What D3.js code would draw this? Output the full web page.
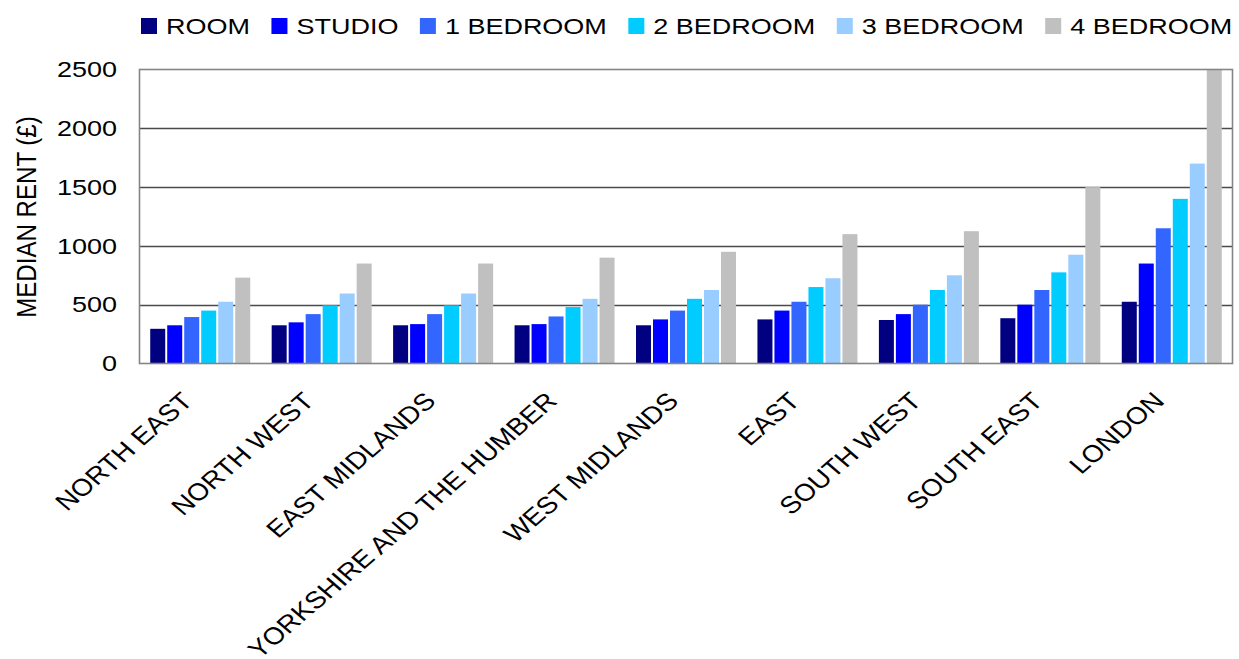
<!DOCTYPE html>
<html>
<head>
<meta charset="utf-8">
<script src="https://cdn.jsdelivr.net/npm/d3@7"></script>
<style>
  html, body { margin: 0; padding: 0; background: #fff; }
  svg { display: block; font-family: "Liberation Sans", Arial, sans-serif; }
</style>
</head>
<body>
<svg id="chart" width="1239" height="659"></svg>
<script>
// Median monthly rent by English region and property size
const regions = ["NORTH EAST", "NORTH WEST", "EAST MIDLANDS", "YORKSHIRE AND THE HUMBER",
  "WEST MIDLANDS", "EAST", "SOUTH WEST", "SOUTH EAST", "LONDON"];
const series = ["ROOM", "STUDIO", "1 BEDROOM", "2 BEDROOM", "3 BEDROOM", "4 BEDROOM"];
const room      = [295, 325, 325, 325, 325, 375, 370, 385, 525];
const studio    = [325, 350, 335, 335, 375, 450, 420, 500, 850];
const bed1      = [395, 420, 420, 400, 450, 525, 500, 625, 1150];
const bed2      = [450, 495, 495, 480, 550, 650, 625, 775, 1400];
const bed3      = [525, 595, 595, 550, 625, 725, 750, 925, 1700];
const bed4      = [730, 850, 850, 900, 950, 1100, 1125, 1500, 2500];
const yTicks    = [0, 500, 1000, 1500, 2000, 2500];
const colors    = ["#000080", "#0000FF", "#3366FF", "#00CCFF", "#99CCFF", "#C0C0C0"];

const values = [room, studio, bed1, bed2, bed3, bed4];
const rows = regions.map((r, i) => ({ region: r, vals: series.map((s, j) => ({ key: s, value: values[j][i] })) }));

const svg = d3.select("#chart");
const plot = { left: 139.5, right: 1232.5, top: 69.5, bottom: 363.5 };
const fontSize = 27, squash = 0.83;

const x0 = d3.scaleBand().domain(regions).range([plot.left, plot.right]).padding(0);
const x1 = d3.scaleBand().domain(series).range([0, 100]).paddingInner(2 / 17).paddingOuter(0);
const y = d3.scaleLinear().domain([0, 2500]).range([plot.bottom, plot.top]);

// plot background and horizontal gridlines
svg.append("rect")
  .attr("x", plot.left).attr("y", plot.top)
  .attr("width", plot.right - plot.left).attr("height", plot.bottom - plot.top)
  .attr("fill", "#fff");

svg.append("g").selectAll("line")
  .data(yTicks.filter(t => t > 0 && t < 2500))
  .join("line")
  .attr("x1", plot.left).attr("x2", plot.right)
  .attr("y1", d => Math.round(y(d)) + 0.5).attr("y2", d => Math.round(y(d)) + 0.5)
  .attr("stroke", "#4a4a4a").attr("stroke-width", 1.6);

// bars
const inner = (x0.bandwidth() - 100) / 2;
svg.append("g").selectAll("g")
  .data(rows)
  .join("g")
  .attr("transform", d => `translate(${x0(d.region) + inner},0)`)
  .selectAll("rect")
  .data(d => d.vals)
  .join("rect")
  .attr("x", d => x1(d.key))
  .attr("width", x1.bandwidth())
  .attr("y", d => y(d.value))
  .attr("height", d => y(0) - y(d.value))
  .attr("fill", (d, i) => colors[i]);

// plot frame
svg.append("rect")
  .attr("x", plot.left).attr("y", plot.top)
  .attr("width", plot.right - plot.left).attr("height", plot.bottom - plot.top)
  .attr("fill", "none").attr("stroke", "#858585").attr("stroke-width", 1.6);

// y axis tick labels
const yAxis = d3.axisLeft(y).tickValues(yTicks).tickSize(0).tickPadding(0).tickFormat(d3.format("d"));
const ya = svg.append("g").attr("transform", `translate(117,0)`).call(yAxis);
ya.select(".domain").remove();
ya.selectAll("text")
  .attr("font-size", fontSize).attr("fill", "#000")
  .attr("font-family", "Liberation Sans, Arial, sans-serif")
  .attr("x", 0).attr("dy", null).attr("y", 0)
  .attr("dominant-baseline", "central")
  .attr("transform", `scale(1,${squash})`);
ya.selectAll(".tick").attr("transform", d => `translate(0,${y(d)})`);

// y axis title
svg.append("text")
  .attr("transform", `translate(36,217) scale(1,0.86) rotate(-90)`)
  .attr("text-anchor", "middle")
  .attr("font-size", 28)
  .text("MEDIAN RENT (£)");

// x axis category labels, slanted
const xAxis = d3.axisBottom(x0).tickSize(0).tickPadding(0);
const xa = svg.append("g").attr("transform", `translate(0,${plot.bottom})`).call(xAxis);
xa.select(".domain").remove();
xa.selectAll("text")
  .attr("font-size", 28).attr("fill", "#000")
  .attr("font-family", "Liberation Sans, Arial, sans-serif")
  .attr("text-anchor", "end")
  .attr("y", 0).attr("dy", null)
  .attr("transform", `translate(-6,39) scale(1,0.86) rotate(-45)`);

// legend
const legend = svg.append("g");
let lx = 141;
series.forEach((s, i) => {
  const g = legend.append("g");
  g.append("rect").attr("x", lx).attr("y", 18).attr("width", 16).attr("height", 16).attr("fill", colors[i]);
  const t = g.append("text")
    .attr("transform", `translate(${lx + 25},33.5) scale(1,${squash})`)
    .attr("font-size", fontSize)
    .text(s);
  lx += 25 + t.node().getComputedTextLength() + 21.5;
});
</script>
</body>
</html>
